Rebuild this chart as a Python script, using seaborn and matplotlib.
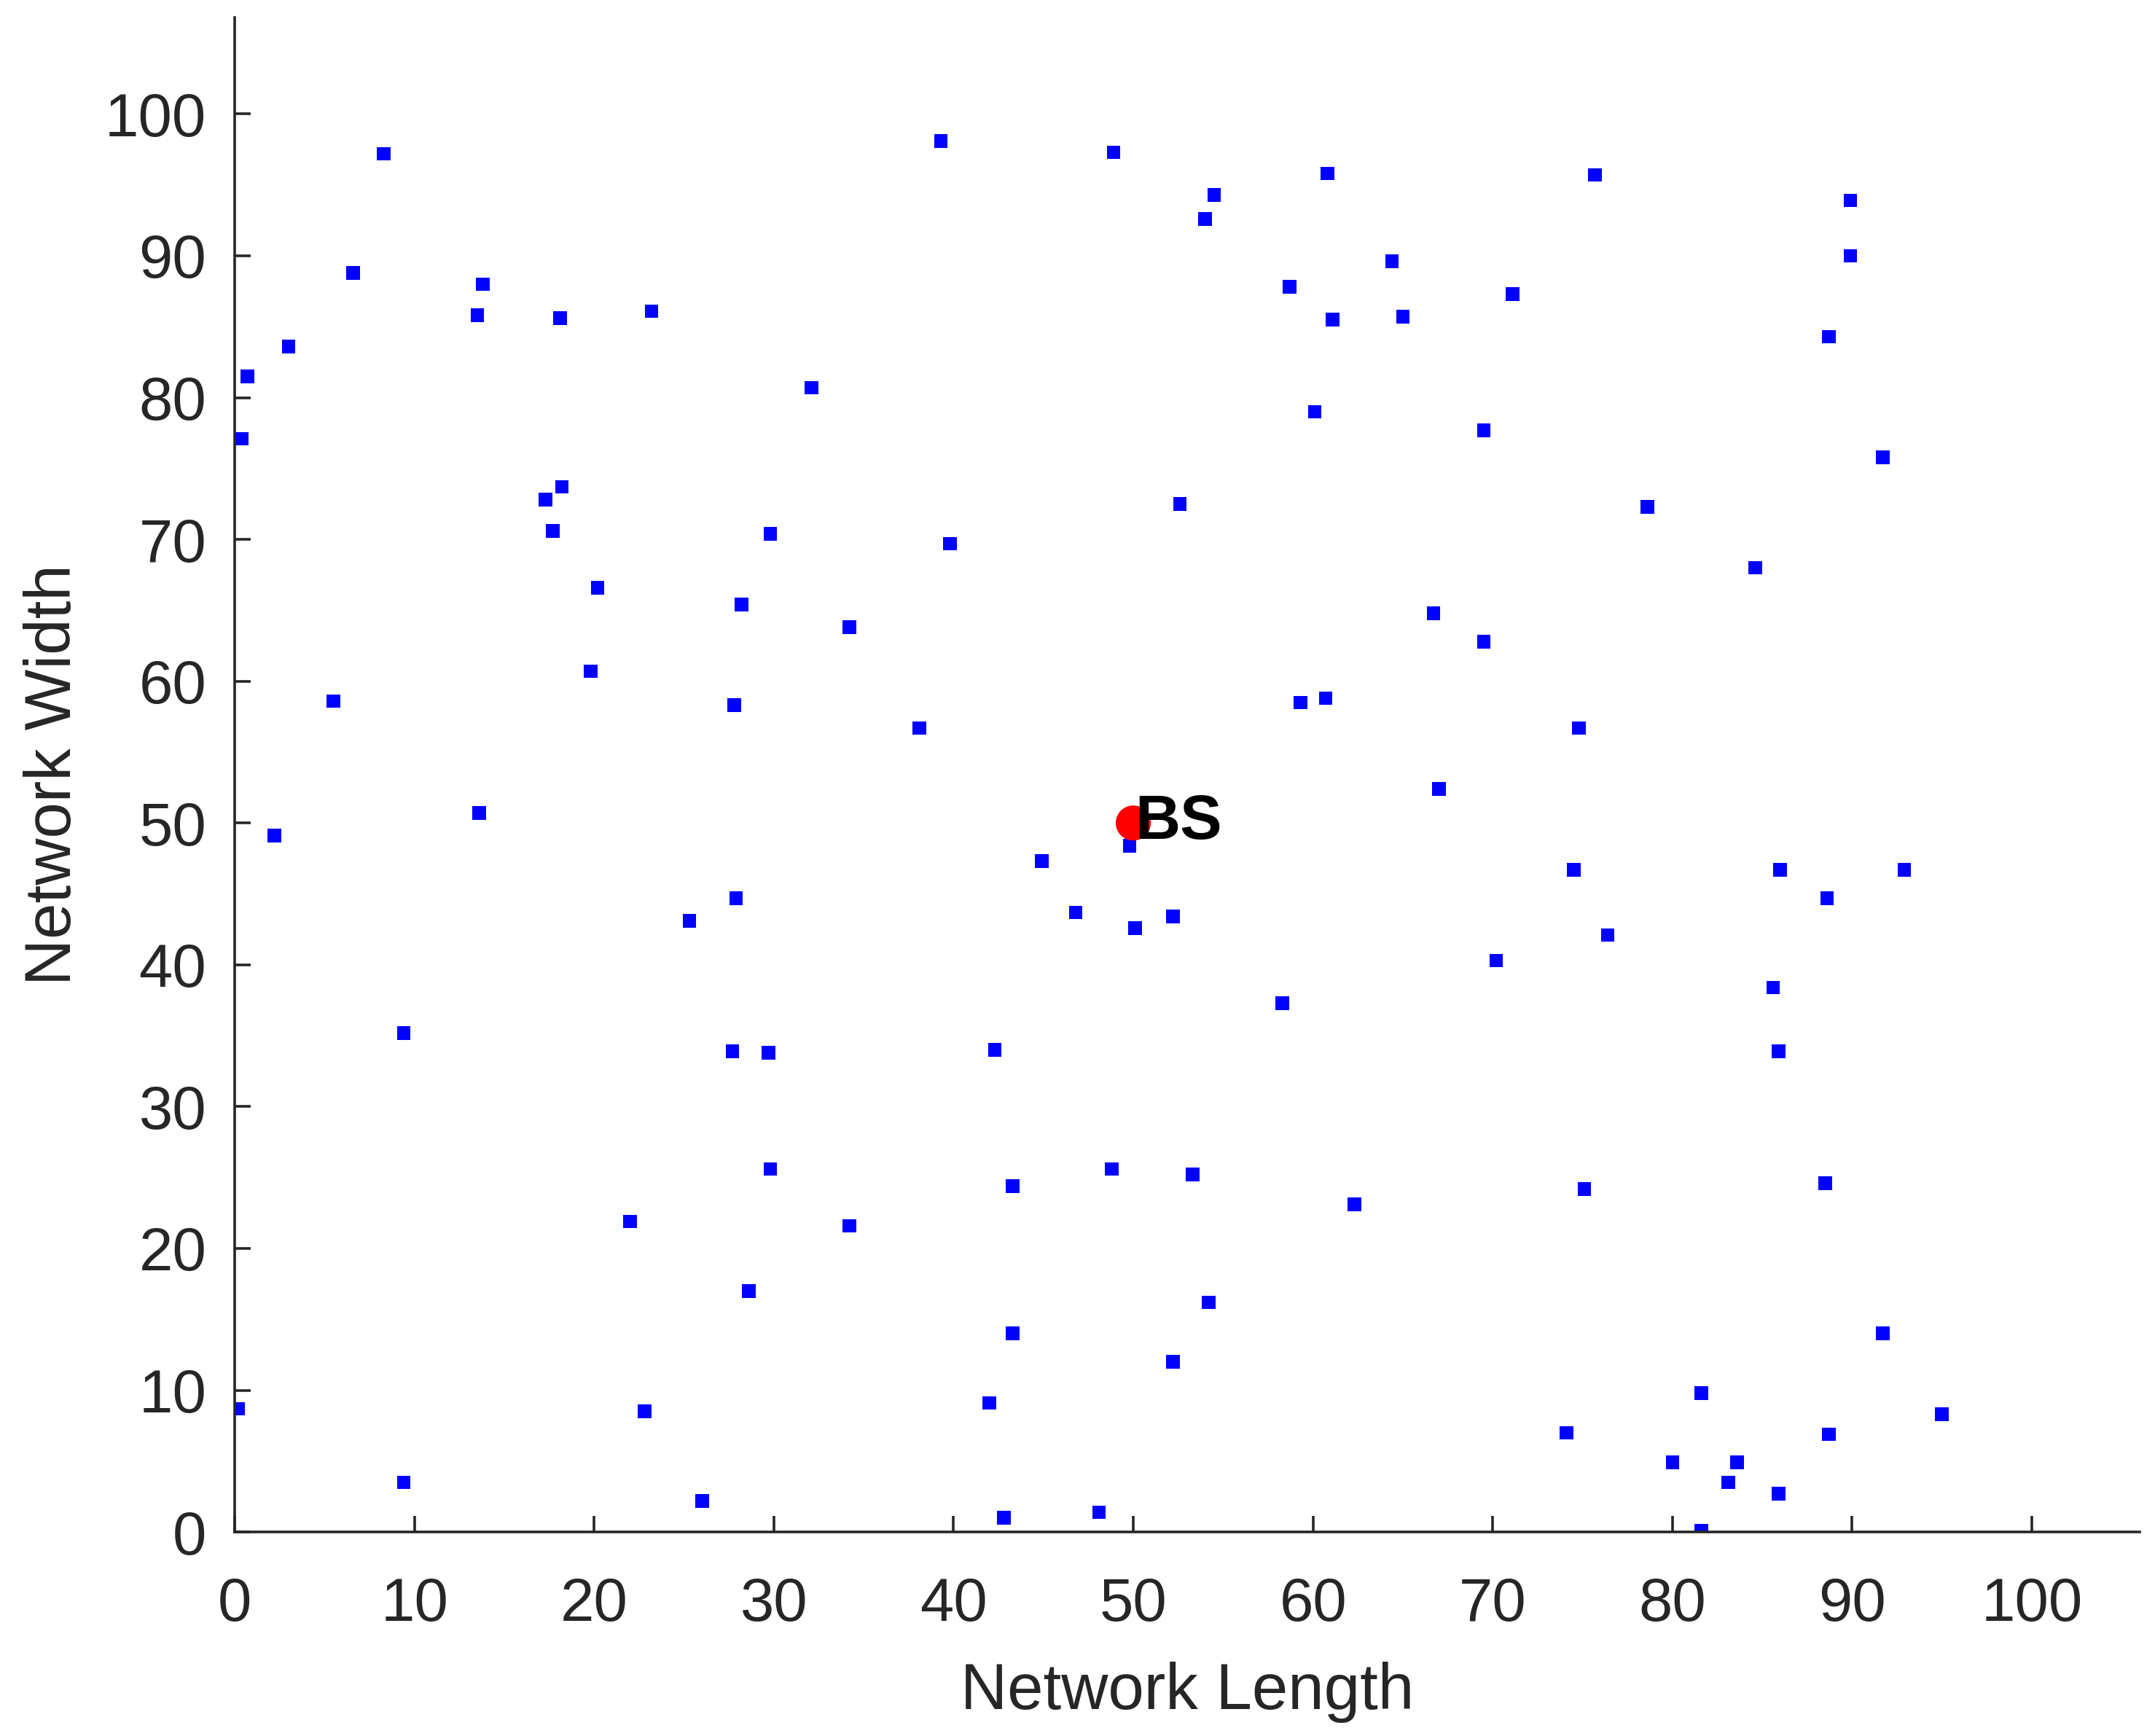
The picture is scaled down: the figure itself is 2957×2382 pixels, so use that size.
import numpy as np
import pandas as pd
import matplotlib
matplotlib.use("Agg")
import matplotlib.pyplot as plt
import seaborn as sns

# sensor node positions
node_x = [8.3, 39.3, 48.9, 60.8, 75.7, 54.5, 54.0, 89.9, 89.9, 64.4,
          6.6, 13.8, 58.7, 71.1, 13.5, 18.1, 23.2, 61.1, 65.0, 88.7,
          3.0, 0.7, 32.1, 60.1, 0.4, 69.5, 91.7, 18.2, 17.3, 52.6,
          78.6, 17.7, 29.8, 39.8, 84.6, 20.2, 28.2, 34.2, 66.7, 69.5,
          19.8, 5.5, 27.8, 59.3, 60.7, 38.1, 74.8, 67.0, 13.6, 2.2,
          49.8, 44.9, 74.5, 86.0, 92.9, 27.9, 88.6, 46.8, 52.2, 25.3,
          50.1, 76.4, 70.2, 85.6, 58.3, 9.4, 27.7, 29.7, 42.3, 85.9,
          29.8, 48.8, 53.3, 43.3, 75.1, 88.5, 62.3, 22.0, 34.2, 28.6,
          54.2, 43.3, 91.7, 52.2, 81.6, 0.2, 22.8, 42.0, 95.0, 74.1,
          88.7, 80.0, 83.6, 83.1, 9.4, 85.9, 26.0, 42.8, 48.1, 81.6]
node_y = [97.2, 98.1, 97.3, 95.8, 95.7, 94.3, 92.6, 93.9, 90.0, 89.6,
          88.8, 88.0, 87.8, 87.3, 85.8, 85.6, 86.1, 85.5, 85.7, 84.3,
          83.6, 81.5, 80.7, 79.0, 77.1, 77.7, 75.8, 73.7, 72.8, 72.5,
          72.3, 70.6, 70.4, 69.7, 68.0, 66.6, 65.4, 63.8, 64.8, 62.8,
          60.7, 58.6, 58.3, 58.5, 58.8, 56.7, 56.7, 52.4, 50.7, 49.1,
          48.4, 47.3, 46.7, 46.7, 46.7, 44.7, 44.7, 43.7, 43.4, 43.1,
          42.6, 42.1, 40.3, 38.4, 37.3, 35.2, 33.9, 33.8, 34.0, 33.9,
          25.6, 25.6, 25.2, 24.4, 24.2, 24.6, 23.1, 21.9, 21.6, 17.0,
          16.2, 14.0, 14.0, 12.0, 9.8, 8.7, 8.5, 9.1, 8.3, 7.0,
          6.9, 4.9, 4.9, 3.5, 3.5, 2.7, 2.2, 1.0, 1.4, 0.1]
bs_x = [50]
bs_y = [50]
x_ticks = list(range(0, 101, 10))
y_ticks = list(range(0, 101, 10))

nodes = pd.DataFrame({"x": node_x, "y": node_y})
bs = pd.DataFrame({"x": bs_x, "y": bs_y})

sns.set_style("white")
plt.rcParams["font.family"] = ["Liberation Sans", "DejaVu Sans"]

fig = plt.figure(figsize=(14.785, 11.91), dpi=200)
ax = fig.add_axes([0.1089, 0.1175, 0.884, 0.8724])

sns.scatterplot(data=nodes, x="x", y="y", marker="s", s=45, color="#0000ff",
                edgecolor="none", linewidth=0, ax=ax)
sns.scatterplot(data=bs, x="x", y="y", marker="o", s=300, color="#ff0000",
                edgecolor="none", linewidth=0, ax=ax)
ax.text(bs_x[0] + 0.1, bs_y[0], "BS", fontsize=31, fontweight="bold",
        color="black", ha="left", va="center")

ax.set_xlim(0, 106)
ax.set_ylim(0, 106.8)
ax.set_xticks(x_ticks)
ax.set_yticks(y_ticks)
sns.despine(ax=ax)
for s in ["left", "bottom"]:
    ax.spines[s].set_color("#262626")
    ax.spines[s].set_linewidth(1.3)
ax.tick_params(bottom=True, left=True, direction="in", length=8, width=1.3,
               color="#262626", labelsize=30, labelcolor="#262626")
ax.tick_params(axis="x", pad=22)
ax.tick_params(axis="y", pad=14)
ax.set_xlabel("Network Length", fontsize=32, color="#262626", labelpad=14)
ax.set_ylabel("Network Width", fontsize=32, color="#262626", labelpad=10)

fig.savefig("out.png", dpi=200)
